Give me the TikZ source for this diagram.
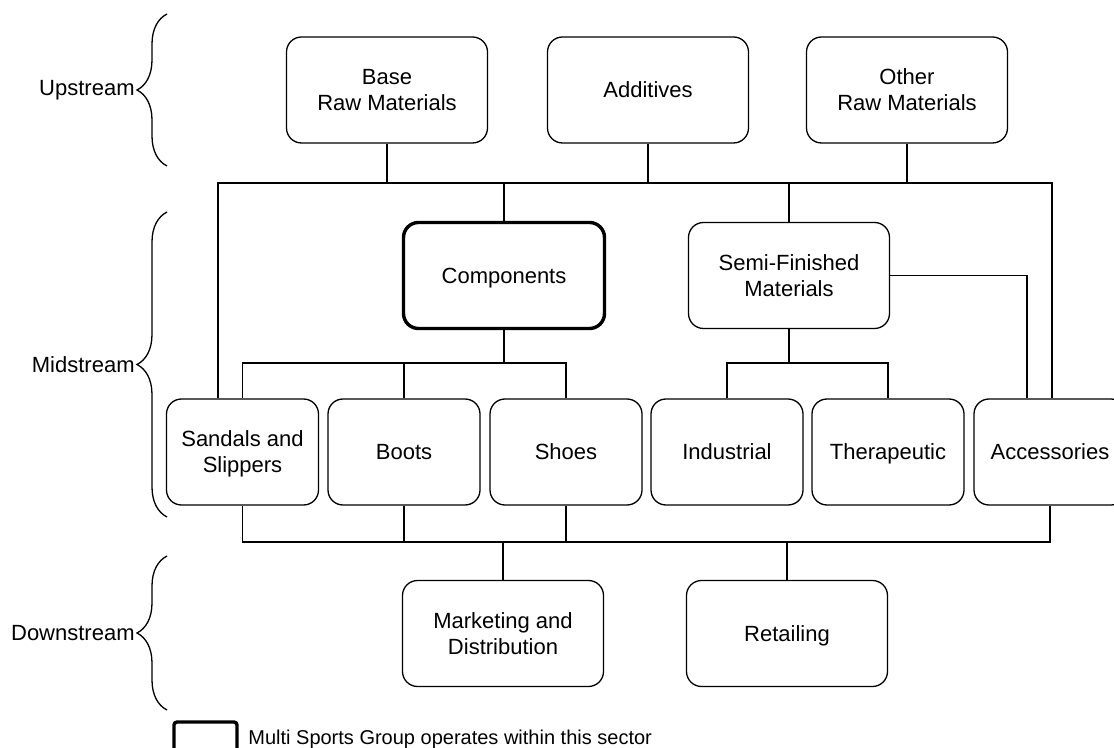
\documentclass[tikz,border=0pt]{standalone}
\usepackage{fontspec}
\setmainfont{Liberation Sans}
\usetikzlibrary{decorations.pathreplacing}

\begin{document}
\begin{tikzpicture}[
  x=.5pt,y=-.5pt,
  stage/.style={draw,rounded corners=7.5pt,line width=.65pt,align=center,
    font=\fontsize{11}{13}\selectfont,minimum width=100.5pt,
    minimum height=53pt,inner sep=2pt,text depth=0pt},
  product/.style={stage,minimum width=76pt},
  sector/.style={stage,line width=1.7pt},
  link/.style={line width=.65pt},
  bracket/.style={decorate,decoration={brace,amplitude=15pt},line width=.65pt},
  level/.style={anchor=east,font=\fontsize{11}{13}\selectfont,inner sep=1pt}
]
\useasboundingbox (0,0) rectangle (1114,748);

\node[stage] (base) at (387,90) {Base\\Raw Materials};
\node[stage] (addit) at (648,90) {Additives};
\node[stage] (other) at (907,90) {Other\\Raw Materials};

\node[sector] (comp) at (504,275.5) {Components};
\node[stage] (semi) at (789,275.5) {Semi-Finished\\Materials};

\node[product] (sandal) at (242.5,452) {Sandals and\\Slippers};
\node[product] (boots) at (404,452) {Boots};
\node[product] (shoes) at (566,452) {Shoes};
\node[product] (indus) at (727,452) {Industrial};
\node[product] (thera) at (888,452) {Therapeutic};
\node[product] (acces) at (1050,452) {Accessories};

\node[stage] (market) at (503,633.5) {Marketing and\\Distribution};
\node[stage] (retail) at (787,633.5) {Retailing};

\coordinate (tl) at (218,183);
\coordinate (tr) at (1052,183);
\coordinate (cb) at (0,363);
\coordinate (bb) at (0,542);
\coordinate (sx) at (1027,0);

\draw[link] (sandal.north -| tl) -- (tl) -- (tr) -- (acces.north -| tr);
\draw[link] (base.south) -- (base.south |- tl);
\draw[link] (addit.south) -- (addit.south |- tl);
\draw[link] (other.south) -- (other.south |- tl);
\draw[link] (comp.north) -- (comp.north |- tl);
\draw[link] (semi.north) -- (semi.north |- tl);

\draw[link] (sandal.north) -- (sandal.north |- cb) -- (shoes.north |- cb) -- (shoes.north);
\draw[link] (boots.north) -- (boots.north |- cb);
\draw[link] (comp.south) -- (comp.south |- cb);
\draw[link] (indus.north) -- (indus.north |- cb) -- (thera.north |- cb) -- (thera.north);
\draw[link] (semi.south) -- (semi.south |- cb);
\draw[link] (semi.east) -| (acces.north -| sx);

\draw[link] (sandal.south) -- (sandal.south |- bb) -- (acces.south |- bb) -- (acces.south);
\draw[link] (boots.south) -- (boots.south |- bb);
\draw[link] (shoes.south) -- (shoes.south |- bb);
\draw[link] (market.north) -- (market.north |- bb);
\draw[link] (retail.north) -- (retail.north |- bb);

\draw[bracket] (167,166) -- (167,14);
\draw[bracket] (167,517) -- (167,212);
\draw[bracket] (167,710) -- (167,556);
\node[level] (up) at (137,90) {Upstream};
\node[level] (mid) at (137,364.5) {Midstream};
\node[level] (down) at (137,633) {Downstream};

\node[draw,line width=1.7pt,rounded corners=1.5pt,minimum width=31.5pt,
  minimum height=21pt,inner sep=0pt] (key) at (205.5,743) {};
\node[anchor=base west,inner sep=0pt,font=\fontsize{10}{12}\selectfont]
  (keytext) at (248,744) {Multi Sports Group operates within this sector};
\end{tikzpicture}
\end{document}
